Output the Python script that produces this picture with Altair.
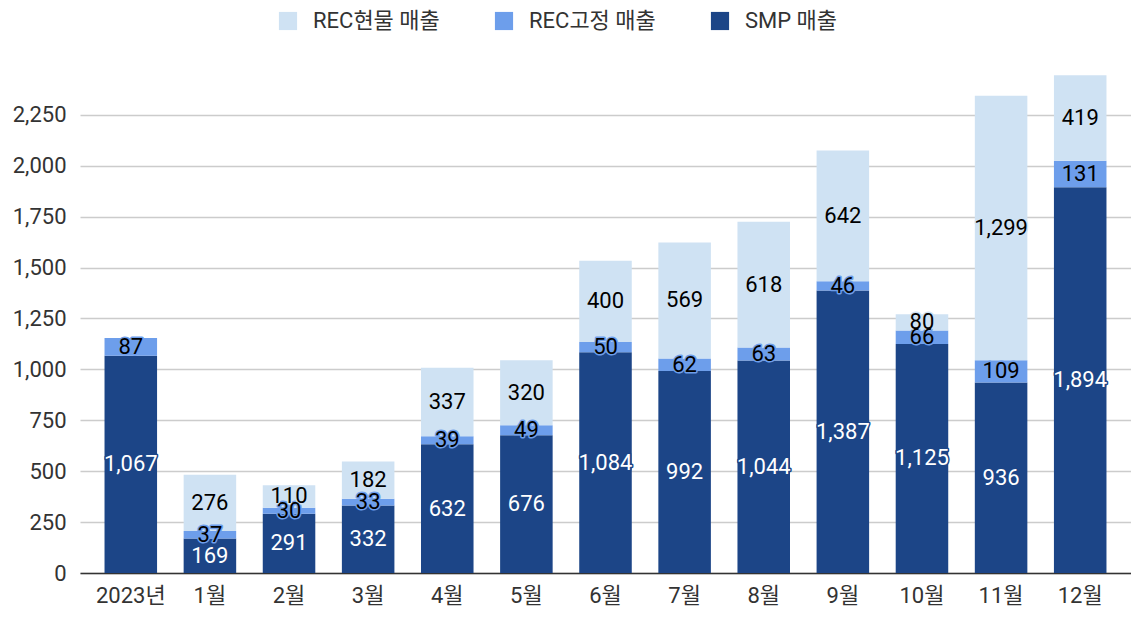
import altair as alt
import pandas as pd

categories = ["2023년", "1월", "2월", "3월", "4월", "5월", "6월", "7월", "8월", "9월", "10월", "11월", "12월"]
smp = [1067, 169, 291, 332, 632, 676, 1084, 992, 1044, 1387, 1125, 936, 1894]
rec_fixed = [87, 37, 30, 33, 39, 49, 50, 62, 63, 46, 66, 109, 131]
rec_spot = [0, 276, 110, 182, 337, 320, 400, 569, 618, 642, 80, 1299, 419]
y_ticks = [0, 250, 500, 750, 1000, 1250, 1500, 1750, 2000, 2250]

series = ["REC현물 매출", "REC고정 매출", "SMP 매출"]
colors = ["#cfe2f3", "#6d9eeb", "#1c4587"]
text_colors = ["#000000", "#000000", "#ffffff"]
stack_rank = {"SMP 매출": 0, "REC고정 매출": 1, "REC현물 매출": 2}

rows = []
for i, c in enumerate(categories):
    for s, vals in (("SMP 매출", smp), ("REC고정 매출", rec_fixed), ("REC현물 매출", rec_spot)):
        rows.append({"cat": c, "series": s, "value": vals[i], "rank": stack_rank[s]})
df = pd.DataFrame(rows)

FONT = "Roboto, Noto Sans CJK KR, sans-serif"
FS = 22

base = alt.Chart(df).transform_stack(
    stack="value", groupby=["cat"], sort=[alt.SortField("rank", order="ascending")], as_=["y0", "y1"]
).transform_calculate(mid="(datum.y0 + datum.y1) / 2")

xscale = alt.Scale(paddingInner=0.336, paddingOuter=0.31)
xenc = alt.X("cat:N", sort=categories, title=None, scale=xscale,
             axis=alt.Axis(labelAngle=0, labelFontSize=FS, labelColor="#333333", labelFont=FONT,
                           ticks=False, domainColor="#333333", domainWidth=1.5, labelPadding=12))
yscale = alt.Scale(domain=[0, 2480], nice=False)

bars = base.mark_bar().encode(
    x=xenc,
    y=alt.Y("y0:Q", scale=yscale, title=None,
            axis=alt.Axis(values=y_ticks, format=",.0f",
                          labelFontSize=FS, labelColor="#333333", labelFont=FONT, domain=False,
                          ticks=False, gridColor="#cccccc", gridWidth=1.5, labelPadding=14)),
    y2="y1:Q",
    color=alt.Color("series:N", scale=alt.Scale(domain=series, range=colors),
                    legend=alt.Legend(title=None, orient="none", direction="horizontal",
                                      legendX=197, legendY=-58, symbolType="square", symbolSize=330,
                                      symbolStrokeWidth=0, labelFontSize=FS, labelColor="#333333",
                                      labelFont=FONT, labelOffset=14, columnPadding=53)),
)

labels = base.transform_filter("datum.value > 0")

halo = labels.mark_text(fontSize=FS, font=FONT, strokeWidth=3, strokeJoin="round").encode(
    x=alt.X("cat:N", sort=categories, scale=xscale),
    y=alt.Y("mid:Q", scale=yscale),
    text=alt.Text("value:Q", format=",.0f"),
    stroke=alt.Stroke("series:N", scale=alt.Scale(domain=series, range=colors), legend=None),
    fill=alt.Fill("series:N", scale=alt.Scale(domain=series, range=colors), legend=None),
)

text = labels.mark_text(fontSize=FS, font=FONT).encode(
    x=alt.X("cat:N", sort=categories, scale=xscale),
    y=alt.Y("mid:Q", scale=yscale),
    text=alt.Text("value:Q", format=",.0f"),
    fill=alt.Fill("series:N", scale=alt.Scale(domain=series, range=text_colors), legend=None),
)

chart = alt.layer(bars, halo, text).resolve_scale(fill="independent", stroke="independent").properties(
    width=1051, height=505,
    autosize=alt.AutoSizeParams(type="none"),
    padding={"left": 72, "top": 60, "right": 0, "bottom": 36},
).configure(font=FONT).configure_view(stroke="transparent", strokeWidth=0)

chart.save("out.html", embed_options={"renderer": "svg", "actions": False})
